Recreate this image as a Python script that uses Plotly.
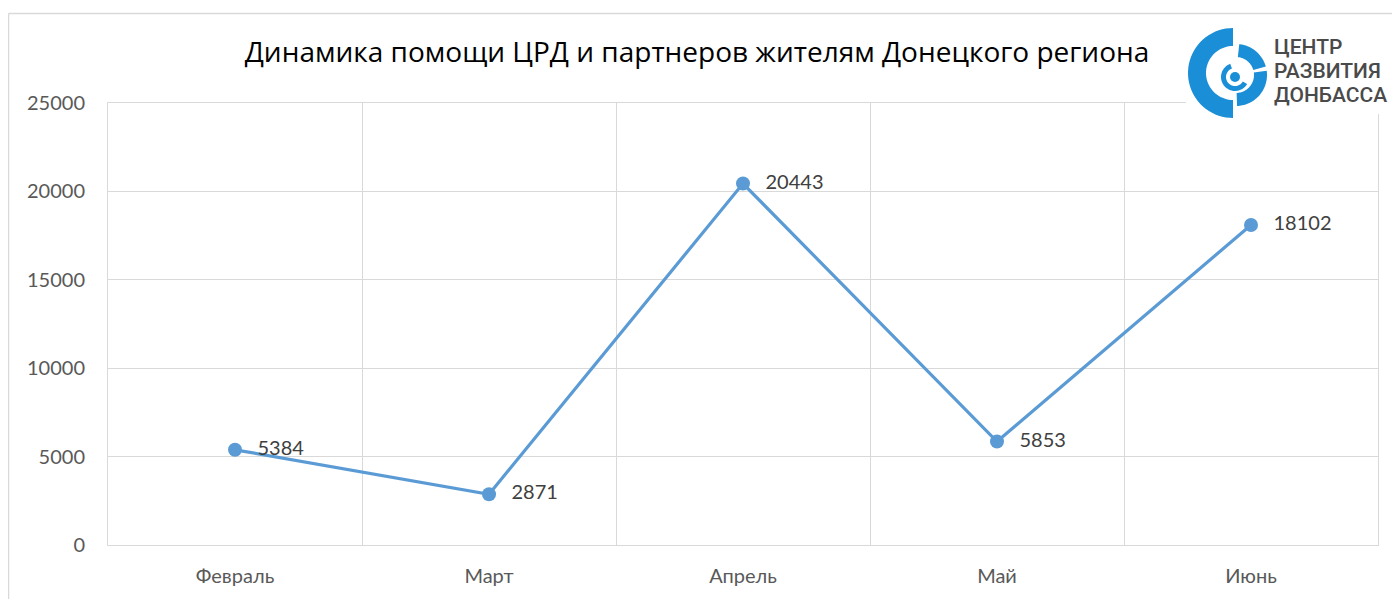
import numpy as np
import plotly.graph_objects as go

months = ["Февраль", "Март", "Апрель", "Май", "Июнь"]
values = [5384, 2871, 20443, 5853, 18102]
y_ticks = [0, 5000, 10000, 15000, 20000, 25000]
y_tick_labels = ["0", "5000", "10000", "15000", "20000", "25000"]
title_text = "Динамика помощи ЦРД и партнеров жителям Донецкого региона"
logo_lines = ["ЦЕНТР", "РАЗВИТИЯ", "ДОНБАССА"]

OFF = 8  # default page body margin
W, H = 1400 - OFF, 599 - OFF
L, R, T, B = 108 - OFF, 22, 103 - OFF, 54
PW, PH = W - L - R, H - T - B

def px(X):
    return (X - OFF - L) / PW

def py(Y):
    return (H - B - (Y - OFF)) / PH

BLUE_LOGO = "#1a8ed6"

def ring_path(cx, cy, r_out, r_in, a0, a1, n=40):
    a = np.radians(np.linspace(a0, a1, n))
    xo = cx + r_out * np.cos(a)
    yo = cy - r_out * np.sin(a)
    xi = cx + r_in * np.cos(a[::-1])
    yi = cy - r_in * np.sin(a[::-1])
    pts = list(zip(np.r_[xo, xi], np.r_[yo, yi]))
    return "M " + " L ".join(f"{px(x):.5f},{py(y):.5f}" for x, y in pts) + " Z"

fig = go.Figure()
fig.add_trace(go.Scatter(
    x=months, y=values, mode="lines+markers+text",
    line=dict(color="#5b9bd5", width=3.2),
    marker=dict(color="#5b9bd5", size=14),
    text=[f"  \u2009{v}" for v in values],
    textposition="middle right",
    textfont=dict(family="Lato", size=20, color="#404040"),
    cliponaxis=False, hoverinfo="skip",
))

shapes = []
shapes.append(dict(type="line", xref="paper", yref="paper",
                   x0=px(8.5), x1=px(1410), y0=py(13.5), y1=py(13.5),
                   line=dict(color="#d9d9d9", width=1.5), layer="below"))
shapes.append(dict(type="line", xref="paper", yref="paper",
                   x0=px(8.5), x1=px(8.5), y0=py(13.5), y1=py(610),
                   line=dict(color="#d9d9d9", width=1.5), layer="below"))
shapes.append(dict(type="rect", xref="paper", yref="paper",
                   x0=px(1186), x1=px(1402), y0=py(27), y1=py(114),
                   fillcolor="white", line=dict(width=0), layer="above"))
shapes.append(dict(type="path", xref="paper", yref="paper",
                   path=ring_path(1233, 73, 45, 27, 90, 270),
                   fillcolor=BLUE_LOGO, line=dict(width=0), layer="above"))
shapes.append(dict(type="path", xref="paper", yref="paper",
                   path=ring_path(1236, 75, 31, 18, -88, 8),
                   fillcolor=BLUE_LOGO, line=dict(width=0), layer="above"))
shapes.append(dict(type="path", xref="paper", yref="paper",
                   path=ring_path(1236, 75, 31, 18, 16, 84),
                   fillcolor=BLUE_LOGO, line=dict(width=0), layer="above"))
shapes.append(dict(type="path", xref="paper", yref="paper",
                   path=ring_path(1235, 77, 14, 9, 110, 330),
                   fillcolor=BLUE_LOGO, line=dict(width=0), layer="above"))
shapes.append(dict(type="circle", xref="paper", yref="paper",
                   x0=px(1230), x1=px(1240), y0=py(72), y1=py(82),
                   fillcolor=BLUE_LOGO, line=dict(width=0), layer="above"))

annotations = []
for i, t in enumerate(logo_lines):
    annotations.append(dict(
        text=t, xref="paper", yref="paper", x=px(1272), y=py(47 + 24 * i),
        xanchor="left", yanchor="middle", showarrow=False,
        font=dict(family="Roboto", size=21, color="#4a4a4a", weight=500),
    ))

fig.update_layout(
    width=W, height=H,
    margin=dict(l=L, r=R, t=T, b=B),
    paper_bgcolor="white", plot_bgcolor="white",
    showlegend=False,
    title=dict(text=title_text, x=(697 - OFF) / W, xanchor="center",
               y=1 - (52 - OFF) / H, yanchor="middle", xref="container", yref="container",
               font=dict(family="Open Sans", size=28, color="#000000")),
    xaxis=dict(type="category", range=[-0.5, 4.5], tickson="boundaries", showgrid=True,
               gridcolor="#d9d9d9", gridwidth=1, ticks="",
               showline=True, mirror=True, linecolor="#d9d9d9", linewidth=1,
               tickfont=dict(family="Lato", size=20, color="#595959"),
               ticklabelstandoff=13, fixedrange=True),
    yaxis=dict(range=[0, 25000], tickvals=y_ticks, ticktext=y_tick_labels, showgrid=True,
               gridcolor="#d9d9d9", gridwidth=1, ticks="", zeroline=False,
               showline=True, mirror=True, linecolor="#d9d9d9", linewidth=1,
               tickfont=dict(family="Lato", size=20, color="#595959"),
               ticklabelstandoff=18, fixedrange=True),
    shapes=shapes, annotations=annotations,
)

fig.write_html("out.html")
